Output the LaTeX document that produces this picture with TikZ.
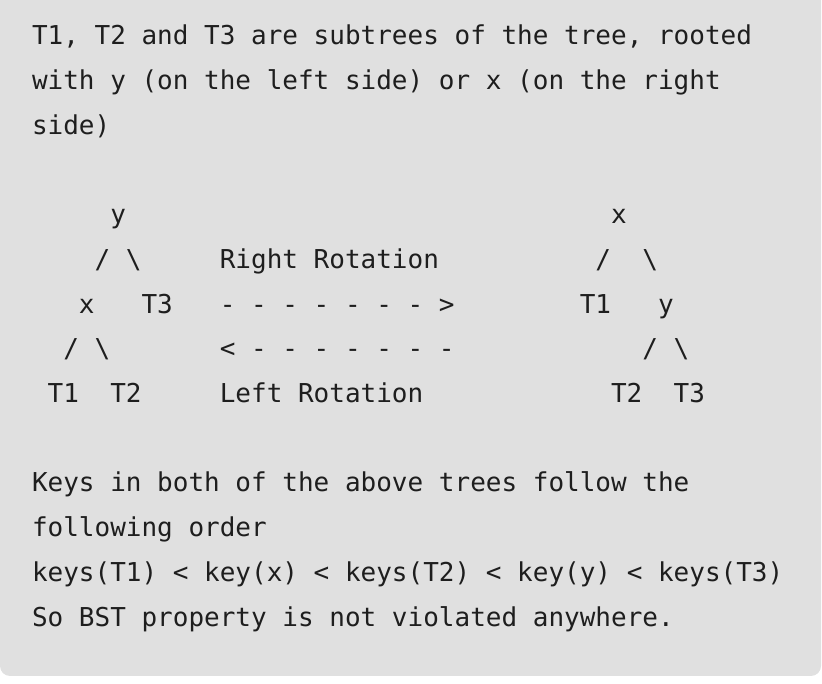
\documentclass[tikz,border=0pt]{standalone}
\usepackage{fontspec}
\setmainfont{DejaVu Sans Mono}
\definecolor{bgcol}{RGB}{224,224,224}
\definecolor{txtcol}{RGB}{30,30,30}
\newcommand\tok[4]{\node[code] (#1) at ({32+15.65*#2},{639-44.7*(#3-1)}) {#4};}
\begin{document}
\frenchspacing
\begin{tikzpicture}[x=1pt,y=1pt,
  code/.style={anchor=base west,inner sep=0pt,outer sep=0pt,text=txtcol,
    font=\fontsize{26}{26}\selectfont}]
\useasboundingbox (0,0) rectangle (822,684);
\fill[bgcol] (0,684) -- (821,684) -- (821,18)
  arc[start angle=0,end angle=-90,radius=10] -- (10,8)
  arc[start angle=270,end angle=180,radius=10] -- cycle;
% prose
\tok{p1}{0}{1}{T1, T2 and T3 are subtrees of the tree, rooted}
\tok{p2}{0}{2}{with y (on the left side) or x (on the right}
\tok{p3}{0}{3}{side)}
% row 5
\tok{ly}{5}{5}{y}
\tok{rx}{37}{5}{x}
% row 6
\tok{ls1}{4}{6}{/}
\tok{lb1}{6}{6}{\textbackslash}
\tok{rr}{12}{6}{Right Rotation}
\tok{rs1}{36}{6}{/}
\tok{rb1}{39}{6}{\textbackslash}
% row 7
\tok{lx}{3}{7}{x}
\tok{lt3}{7}{7}{T3}
\tok{ar}{12}{7}{- - - - - - - >}
\tok{rt1}{35}{7}{T1}
\tok{ry}{40}{7}{y}
% row 8
\tok{ls2}{2}{8}{/}
\tok{lb2}{4}{8}{\textbackslash}
\tok{al}{12}{8}{< - - - - - - -}
\tok{rs2}{39}{8}{/}
\tok{rb2}{41}{8}{\textbackslash}
% row 9
\tok{lt1}{1}{9}{T1}
\tok{lt2}{5}{9}{T2}
\tok{lr}{12}{9}{Left Rotation}
\tok{rt2}{37}{9}{T2}
\tok{rt3}{41}{9}{T3}
% prose
\tok{k1}{0}{11}{Keys in both of the above trees follow the}
\tok{k2}{0}{12}{following order}
\tok{k3}{0}{13}{keys(T1) < key(x) < keys(T2) < key(y) < keys(T3)}
\tok{k4}{0}{14}{So BST property is not violated anywhere.}
\end{tikzpicture}
\end{document}
